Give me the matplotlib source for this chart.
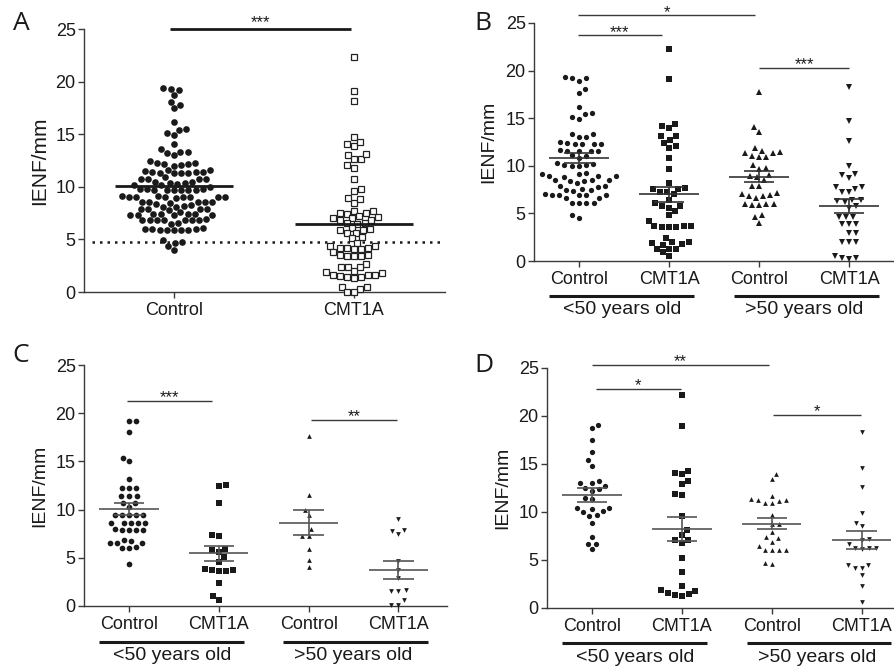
import numpy as np
import matplotlib
matplotlib.use("Agg")
import matplotlib.pyplot as plt
from matplotlib.transforms import blended_transform_factory

plt.rcParams['font.family'] = ['Liberation Sans', 'DejaVu Sans']

W, H = 895, 671
INK = '#1a1a1a'
AXC = '#3a3a3a'

# ---------------- data ----------------
a_categories = ["Control", "CMT1A"]
a_control = [19.4, 19.2, 18.7, 19.3, 18.1, 17.5, 17.8, 16.2, 15.5, 15.4, 14.9, 15.1, 14.1,
             13.6, 13.3, 13.2, 13.0, 13.3,
             12.3, 12.2, 12.1, 12.0, 12.2, 12.3, 12.5,
             11.6, 11.4, 11.3, 11.3, 11.3, 11.3, 11.4, 11.5, 11.4, 11.6,
             10.7, 10.7, 10.5, 10.7, 10.9, 10.7, 10.5,
             10.15, 10.0, 10.3, 10.15, 10.4, 10.4,
             9.8, 9.7, 9.7, 9.7, 9.7, 9.7, 9.7, 9.8, 9.8,
             9.1, 9.0, 9.0, 9.0, 9.0, 8.9, 9.0, 9.0, 9.1, 9.0,
             8.6, 8.6, 8.6, 8.5, 8.6, 8.6, 8.4,
             8.1, 8.1, 7.9, 7.9, 7.9, 7.9, 8.2, 8.3,
             7.4, 7.4, 7.3, 7.3, 7.4, 7.4, 7.6, 7.8, 7.3, 7.3,
             6.6, 6.8, 6.8, 6.8, 6.8, 6.8, 6.8, 6.8, 6.9, 6.5,
             6.0, 6.0, 5.9, 5.9, 5.9, 5.9, 5.9, 6.0, 6.1,
             4.9, 4.7, 4.8, 4.4, 4.0]
a_cmt1a = [22.3, 19.1, 18.2,
           14.7, 14.1, 13.9, 14.3,
           13.0, 12.6, 12.6, 13.1,
           12.1, 11.8,
           10.7,
           9.8, 9.6,
           8.5, 8.9, 8.8,
           7.7, 7.5, 7.4, 7.1, 7.0, 7.0, 7.2, 7.5, 7.7,
           6.8, 6.6, 6.5, 6.6, 6.8,
           5.9, 6.0, 6.1, 5.6, 5.6, 5.9,
           5.2, 5.1,
           4.4, 4.4, 4.7,
           4.2, 4.1, 3.8, 4.2, 4.1, 4.2,
           3.5, 3.4, 3.5, 3.4, 3.4,
           2.7,
           2.4, 2.0, 1.8, 1.9, 2.4, 2.4,
           1.6, 1.5, 1.3, 1.4, 1.4, 1.6, 1.6,
           0.5, 0.3, 0.5,
           0.0, 0.0]
a_means = [10.1, 6.5]
a_threshold = 4.8

sub_categories = ["Control", "CMT1A", "Control", "CMT1A"]
age_groups = ["<50 years old", ">50 years old"]
y_ticks = [0, 5, 10, 15, 20, 25]

# Panel B
b_ctrl_young = [19.3, 19.2, 18.9, 19.2, 18.1, 17.6, 16.2, 15.5, 15.4, 14.9, 15.1,
                13.3, 13.0, 13.0, 13.3,
                12.4, 12.3, 12.3, 12.3, 12.3, 12.5,
                11.6, 11.6, 11.6, 11.7, 11.6,
                11.1, 11.0, 10.8,
                10.2, 10.1, 10.0, 10.3, 10.0, 10.1,
                9.1, 8.9, 8.9, 9.2, 8.8, 8.9, 9.1,
                8.4, 8.2, 8.5, 8.5, 8.5, 8.4,
                7.9, 7.8, 7.9, 7.5, 7.4, 7.5, 7.6,
                6.9, 7.0, 6.9, 6.9, 6.9, 6.9,
                6.1, 6.1, 6.1, 6.1, 6.6, 6.6,
                4.5, 4.8]
b_cmt_young = [22.3, 19.1, 14.2, 14.0, 14.4, 13.1, 12.7, 13.1, 12.1, 11.9, 12.4, 10.8, 9.7, 8.2,
               7.6, 7.3, 7.0, 7.3, 7.6, 7.7, 6.4,
               5.8, 5.6, 6.1, 5.8, 5.2, 4.8, 4.2,
               3.7, 3.7, 3.6, 3.6, 3.6, 3.7,
               2.4, 2.0, 1.8, 1.7, 1.9, 2.0,
               1.3, 1.3, 1.3, 0.9, 0.5]
b_ctrl_old = [17.7, 14.1, 13.6, 11.9, 11.3, 11.5, 11.6, 11.3, 10.9, 11.0, 10.9, 10.1, 9.7, 9.8,
              8.9, 9.0, 8.8, 8.5, 7.9, 7.9, 7.0, 6.8, 6.8, 6.9, 7.1, 6.6, 6.0, 6.0, 5.9, 5.9,
              6.0, 4.8, 4.6, 4.0]
b_cmt_old = [18.3, 14.7, 12.6, 10.0, 9.1, 8.7, 9.0, 7.8, 7.6, 7.8, 7.2, 7.3, 6.4, 6.3, 6.2, 6.4,
             5.8, 5.6, 4.6, 4.6, 4.6, 3.9, 3.9, 3.9, 2.9, 2.9, 2.0, 2.0, 2.0, 0.3, 0.2, 0.3, 0.5]
b_means = [10.8, 7.0, 8.85, 5.75]
b_sems = [0.5, 0.8, 0.57, 0.75]

# Panel C
c_ctrl_young = [19.2, 19.2, 18.0, 15.4, 15.0, 13.2, 12.2, 12.2, 12.2, 11.4, 11.4, 11.4,
                10.7, 10.7, 10.3, 9.4, 9.4, 9.4, 9.4, 9.4, 8.6, 8.6, 8.6, 8.6, 8.6,
                7.9, 7.9, 7.9, 7.9, 8.0, 6.5, 6.5, 6.8, 6.5, 6.7, 6.0, 6.0, 6.1, 4.4]
c_cmt_young = [12.6, 12.4, 10.7, 7.4, 7.3, 5.8, 5.6, 5.9, 5.1, 4.6, 3.8, 3.7, 3.6, 3.6, 3.7,
               2.4, 0.6, 1.0]
c_ctrl_old = [17.6, 11.5, 9.4, 10.0, 8.0, 7.3, 7.3, 5.9, 4.8, 4.0]
c_cmt_old = [9.0, 7.9, 7.5, 7.8, 4.7, 3.7, 2.9, 1.6, 1.6, 1.7, 0.6, 0.1, 0.1]
c_means = [10.05, 5.45, 8.65, 3.72]
c_sems = [0.65, 0.8, 1.3, 0.95]

# Panel D
d_ctrl_young = [19.1, 18.7, 17.5, 16.2, 15.4, 14.8, 13.0, 13.2, 13.0, 12.5, 12.7, 12.4, 12.2,
                11.4, 11.5, 10.3, 10.1, 10.4, 10.0, 10.4, 9.6, 9.7, 8.9, 7.4, 6.7, 6.7, 6.1]
d_cmt_young = [22.2, 19.0, 14.3, 14.0, 14.1, 13.2, 12.9, 11.8, 11.9, 9.6, 8.1, 7.1, 7.1, 7.6,
               6.8, 5.2, 3.7, 2.3, 1.9, 1.8, 1.5, 1.4, 1.3, 1.6]
d_ctrl_old = [14.0, 13.4, 11.7, 11.4, 11.2, 11.1, 11.3, 10.9, 10.9, 9.7, 8.8, 8.8, 7.9, 7.4,
              7.3, 6.9, 6.0, 6.0, 6.0, 6.0, 6.5, 4.6, 4.7]
d_cmt_old = [18.3, 14.6, 12.6, 9.9, 8.5, 8.9, 7.2, 6.7, 7.1, 6.2, 6.1, 6.2, 6.3, 4.5, 4.2,
             4.2, 4.5, 3.4, 2.3, 0.6]
d_means = [11.77, 8.23, 8.78, 7.08]
d_sems = [0.75, 1.2, 0.55, 0.95]

# ---------------- helpers ----------------
fig = plt.figure(figsize=(W / 100, H / 100), dpi=100)


def add_axes(l, t, r, b):
    return fig.add_axes([l / W, 1 - b / H, (r - l) / W, (b - t) / H])


def style(ax, xlim, labels, ylabel_x, ylabel_size):
    ax.set_xlim(*xlim)
    ax.set_ylim(0, 25)
    for s in ['top', 'right']:
        ax.spines[s].set_visible(False)
    for s in ['left', 'bottom']:
        ax.spines[s].set_color(AXC)
        ax.spines[s].set_linewidth(1.0)
    ax.set_yticks(y_ticks)
    ax.set_xticks(range(len(labels)))
    ax.set_xticklabels(labels)
    ax.tick_params(axis='both', direction='out', length=4, width=1.0, color=AXC,
                   labelcolor=INK, labelsize=13)
    ax.tick_params(axis='y', pad=2)
    ax.tick_params(axis='x', pad=3)
    ax.set_ylabel('IENF/mm', fontsize=ylabel_size, color=INK)
    ax.yaxis.set_label_coords(ylabel_x, 0.5)


def swarm_x(ax, xc, values, spacing_px):
    vals = np.asarray(values, dtype=float)
    tr = ax.transData
    ys = tr.transform(np.column_stack([np.full(len(vals), xc), vals]))[:, 1]
    pxu = tr.transform((xc + 1, 0))[0] - tr.transform((xc, 0))[0]
    order = np.argsort(ys, kind='stable')
    placed = []
    offs = np.zeros(len(vals))
    d = spacing_px
    flip = 1
    for i in order:
        y = ys[i]
        near = [(px, py) for px, py in placed if abs(py - y) < d]
        cands = [0.0]
        for px, py in near:
            dx = np.sqrt(max(d * d - (py - y) ** 2, 0))
            cands += [px + dx, px - dx]
        cands = sorted(cands, key=lambda c: (round(abs(c), 3), flip * c))
        chosen = cands[-1]
        for c in cands:
            if all((c - px) ** 2 + (y - py) ** 2 >= d * d - 1e-6 for px, py in near):
                chosen = c
                break
        if abs(chosen) > 1e-6:
            flip = -flip
        placed.append((chosen, y))
        offs[i] = chosen
    return xc + offs / pxu


def dots(ax, xc, values, marker, ms, spacing, face=INK, edge=INK, mew=0.0):
    xs = swarm_x(ax, xc, values, spacing)
    ax.plot(xs, values, linestyle='none', marker=marker, ms=ms, mfc=face, mec=edge,
            mew=mew, clip_on=False, zorder=3)


def mean_sem(ax, i, m, s, color='#333333', lw=1.2, hw=0.33, hs=0.17):
    kw = dict(color=color, lw=lw, zorder=4, solid_capstyle='butt', clip_on=False)
    ax.plot([i - hw, i + hw], [m, m], **kw)
    ax.plot([i - hs, i + hs], [m + s, m + s], **kw)
    ax.plot([i - hs, i + hs], [m - s, m - s], **kw)
    ax.plot([i, i], [m - s, m + s], **kw)


def bracket(ax, x0, x1, y, stars, lw=1.0, dy=0.0, size=12, color='#3a3a3a'):
    ax.plot([x0, x1], [y, y], color=color, lw=lw, clip_on=False, solid_capstyle='butt')
    ax.annotate(stars, xy=((x0 + x1) / 2, y), xytext=(0, dy), textcoords='offset points',
                ha='center', va='baseline', fontsize=size, color=INK,
                annotation_clip=False)


def group_bars(ax, y_bar_px, y_text_px):
    tr = blended_transform_factory(ax.transData, fig.transFigure)
    spans = [(-0.33, 1.28), (1.72, 3.33)]
    centres = [0.48, 2.5]
    for (x0, x1), lab, xc in zip(spans, age_groups, centres):
        ax.plot([x0, x1], [1 - y_bar_px / H] * 2, transform=tr, color=INK, lw=2.2,
                clip_on=False, solid_capstyle='butt')
        ax.text(xc, 1 - y_text_px / H, lab, transform=tr, ha='center', va='center',
                fontsize=14, color=INK)


def panel_letter(x, y, s):
    fig.text(x / W, 1 - y / H, s, ha='center', va='center', fontsize=19,
             family=['Open Sans', 'DejaVu Sans'], color=INK)


# ---------------- Panel A ----------------
axA = add_axes(84, 29, 445, 292)
style(axA, (-0.5, 1.506), a_categories, -0.097, 15)
dots(axA, 0, a_control, 'o', 4.8, 7.2)
dots(axA, 1, a_cmt1a, 's', 4.3, 7.2, face='white', edge='#222222', mew=0.9)
for i, m in enumerate(a_means):
    axA.plot([i - 0.33, i + 0.33], [m, m], color=INK, lw=2.0, zorder=4, solid_capstyle='butt')
axA.plot([-0.455, 1.48], [a_threshold, a_threshold], color=INK, lw=1.8,
         linestyle=(0, (1, 2)), zorder=2)
bracket(axA, -0.02, 0.985, 25, '***', lw=2.0, dy=1, size=12, color=INK)
panel_letter(21.5, 23.5, 'A')

# ---------------- Panel B ----------------
axB = add_axes(534, 23, 895, 261)
style(axB, (-0.5, 3.51), sub_categories, -0.102, 14)
b_sets = [b_ctrl_young, b_cmt_young, b_ctrl_old, b_cmt_old]
b_marks = [('o', 3.8), ('s', 4.0), ('^', 3.7), ('v', 3.7)]
for i, (vals, (mk, ms)) in enumerate(zip(b_sets, b_marks)):
    dots(axB, i, vals, mk, ms, 7.3)
    mean_sem(axB, i, b_means[i], b_sems[i])
bracket(axB, -0.01, 0.92, 23.7, '***', dy=-1)
bracket(axB, -0.01, 1.96, 25.8, '*', dy=-1)
bracket(axB, 2.0, 3.0, 20.3, '***', dy=-1)
group_bars(axB, 296, 310)
panel_letter(483, 23, 'B')

# ---------------- Panel C ----------------
axC = add_axes(84, 365, 447, 606)
style(axC, (-0.5, 3.54), sub_categories, -0.099, 14)
c_sets = [c_ctrl_young, c_cmt_young, c_ctrl_old, c_cmt_old]
c_marks = [('o', 4.1), ('s', 4.1), ('^', 3.4), ('v', 3.4)]
for i, (vals, (mk, ms)) in enumerate(zip(c_sets, c_marks)):
    dots(axC, i, vals, mk, ms, 7.1)
    mean_sem(axC, i, c_means[i], c_sems[i], color='#555555')
bracket(axC, -0.02, 0.93, 21.3, '***', dy=-1)
bracket(axC, 2.03, 2.98, 19.3, '**', dy=-1)
group_bars(axC, 642, 655)
panel_letter(21, 355, 'C')

# ---------------- Panel D ----------------
axD = add_axes(547, 368, 895, 608)
style(axD, (-0.5, 3.37), sub_categories, -0.103, 14)
d_sets = [d_ctrl_young, d_cmt_young, d_ctrl_old, d_cmt_old]
d_marks = [('o', 3.8), ('s', 3.9), ('^', 3.4), ('v', 3.4)]
for i, (vals, (mk, ms)) in enumerate(zip(d_sets, d_marks)):
    dots(axD, i, vals, mk, ms, 7.2)
    mean_sem(axD, i, d_means[i], d_sems[i], color='#555555')
bracket(axD, 0.0, 1.97, 25.3, '**', dy=-1)
bracket(axD, 0.04, 0.99, 22.8, '*', dy=-1)
bracket(axD, 2.01, 2.99, 20.1, '*', dy=-1)
group_bars(axD, 643, 658)
panel_letter(484, 365, 'D')

fig.savefig('out.png', dpi=100)
